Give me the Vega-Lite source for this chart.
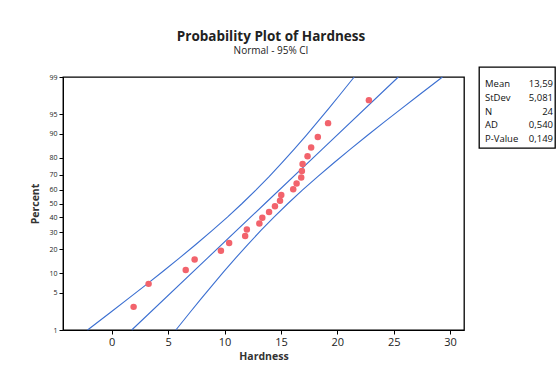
{
  "$schema": "https://vega.github.io/schema/vega-lite/v6.json",
  "background": "white",
  "padding": {"left": 30, "top": 29, "right": 5, "bottom": 5},
  "title": {
    "text": "Probability Plot of Hardness",
    "subtitle": "Normal - 95% CI",
    "anchor": "middle",
    "font": "Open Sans",
    "fontSize": 13.5,
    "fontWeight": "bold",
    "color": "#222222",
    "subtitleFont": "Open Sans",
    "subtitleFontSize": 10,
    "subtitleColor": "#222222",
    "subtitlePadding": 3,
    "offset": 10,
    "dx": -22
  },
  "datasets": {
    "points": [
      {"hardness": 1.94, "percent": 2.87, "z": -1.901},
      {"hardness": 3.27, "percent": 6.97, "z": -1.478},
      {"hardness": 6.56, "percent": 11.07, "z": -1.223},
      {"hardness": 7.35, "percent": 15.16, "z": -1.030},
      {"hardness": 9.68, "percent": 19.26, "z": -0.868},
      {"hardness": 10.41, "percent": 23.36, "z": -0.727},
      {"hardness": 11.83, "percent": 27.46, "z": -0.599},
      {"hardness": 11.98, "percent": 31.56, "z": -0.480},
      {"hardness": 13.09, "percent": 35.66, "z": -0.367},
      {"hardness": 13.35, "percent": 39.75, "z": -0.260},
      {"hardness": 13.95, "percent": 43.85, "z": -0.155},
      {"hardness": 14.47, "percent": 47.95, "z": -0.051},
      {"hardness": 14.92, "percent": 52.05, "z": 0.051},
      {"hardness": 15.03, "percent": 56.15, "z": 0.155},
      {"hardness": 16.09, "percent": 60.25, "z": 0.260},
      {"hardness": 16.39, "percent": 64.34, "z": 0.367},
      {"hardness": 16.80, "percent": 68.44, "z": 0.480},
      {"hardness": 16.86, "percent": 72.54, "z": 0.599},
      {"hardness": 16.92, "percent": 76.64, "z": 0.727},
      {"hardness": 17.36, "percent": 80.74, "z": 0.868},
      {"hardness": 17.68, "percent": 84.84, "z": 1.030},
      {"hardness": 18.27, "percent": 88.93, "z": 1.223},
      {"hardness": 19.18, "percent": 93.03, "z": 1.478},
      {"hardness": 22.80, "percent": 97.13, "z": 1.901}
    ],
    "lines": [
      {"series": "lower", "z": -2.3263, "hardness": -2.141},
      {"series": "lower", "z": -2.0, "hardness": -0.093},
      {"series": "lower", "z": -1.75, "hardness": 1.464},
      {"series": "lower", "z": -1.5, "hardness": 3.005},
      {"series": "lower", "z": -1.25, "hardness": 4.526},
      {"series": "lower", "z": -1.0, "hardness": 6.019},
      {"series": "lower", "z": -0.75, "hardness": 7.478},
      {"series": "lower", "z": -0.5, "hardness": 8.893},
      {"series": "lower", "z": -0.25, "hardness": 10.256},
      {"series": "lower", "z": 0.0, "hardness": 11.557},
      {"series": "lower", "z": 0.25, "hardness": 12.796},
      {"series": "lower", "z": 0.5, "hardness": 13.974},
      {"series": "lower", "z": 0.75, "hardness": 15.100},
      {"series": "lower", "z": 1.0, "hardness": 16.181},
      {"series": "lower", "z": 1.25, "hardness": 17.228},
      {"series": "lower", "z": 1.5, "hardness": 18.249},
      {"series": "lower", "z": 1.75, "hardness": 19.248},
      {"series": "lower", "z": 2.0, "hardness": 20.231},
      {"series": "lower", "z": 2.3263, "hardness": 21.495},
      {"series": "fit", "z": -2.3263, "hardness": 1.772},
      {"series": "fit", "z": -1.0, "hardness": 8.509},
      {"series": "fit", "z": 0.0, "hardness": 13.59},
      {"series": "fit", "z": 1.0, "hardness": 18.671},
      {"series": "fit", "z": 2.3263, "hardness": 25.408},
      {"series": "upper", "z": -2.3263, "hardness": 5.685},
      {"series": "upper", "z": -2.0, "hardness": 6.949},
      {"series": "upper", "z": -1.75, "hardness": 7.932},
      {"series": "upper", "z": -1.5, "hardness": 8.932},
      {"series": "upper", "z": -1.25, "hardness": 9.952},
      {"series": "upper", "z": -1.0, "hardness": 10.999},
      {"series": "upper", "z": -0.75, "hardness": 12.080},
      {"series": "upper", "z": -0.5, "hardness": 13.206},
      {"series": "upper", "z": -0.25, "hardness": 14.384},
      {"series": "upper", "z": 0.0, "hardness": 15.623},
      {"series": "upper", "z": 0.25, "hardness": 16.924},
      {"series": "upper", "z": 0.5, "hardness": 18.287},
      {"series": "upper", "z": 0.75, "hardness": 19.702},
      {"series": "upper", "z": 1.0, "hardness": 21.161},
      {"series": "upper", "z": 1.25, "hardness": 22.654},
      {"series": "upper", "z": 1.5, "hardness": 24.175},
      {"series": "upper", "z": 1.75, "hardness": 25.716},
      {"series": "upper", "z": 2.0, "hardness": 27.273},
      {"series": "upper", "z": 2.3263, "hardness": 29.321}
    ],
    "stats": [
      {"stat": "Mean", "value": "13,59"},
      {"stat": "StDev", "value": "5,081"},
      {"stat": "N", "value": "24"},
      {"stat": "AD", "value": "0,540"},
      {"stat": "P-Value", "value": "0,149"}
    ]
  },
  "spacing": 13,
  "hconcat": [
    {
      "spacing": 0,
      "vconcat": [
        {
          "width": 401,
          "height": 4,
          "view": {"stroke": null},
          "data": {"values": [{"gap": 0}]},
          "mark": {"type": "point", "opacity": 0},
          "encoding": {}
        },
        {
          "width": 401,
          "height": 253,
          "layer": [
            {
              "data": {"name": "lines"},
              "mark": {"type": "line", "color": "#3b6fd1", "strokeWidth": 1.1},
              "encoding": {
                "x": {
                  "field": "hardness",
                  "type": "quantitative",
                  "scale": {"domain": [-4.32, 31.23], "nice": false, "zero": false},
                  "axis": {
                    "title": "Hardness",
                    "values": [0, 5, 10, 15, 20, 25, 30],
                    "grid": false,
                    "tickSize": 4,
                    "tickColor": "#000000",
                    "domainColor": "#000000",
                    "labelFont": "Open Sans",
                    "labelFontSize": 11,
                    "labelColor": "#222222",
                    "labelPadding": 2,
                    "titleFont": "Open Sans",
                    "titleFontSize": 10.5,
                    "titleFontWeight": "bold",
                    "titleColor": "#333333",
                    "titlePadding": 4
                  }
                },
                "y": {
                  "field": "z",
                  "type": "quantitative",
                  "scale": {"domain": [-2.3263, 2.3263], "nice": false, "zero": false},
                  "axis": {
                    "title": "Percent",
                    "values": [-2.3263, -1.6449, -1.2816, -0.8416, -0.5244, -0.2533, 0, 0.2533, 0.5244, 0.8416, 1.2816, 1.6449, 2.3263],
                    "tickCount": 30,
                    "labelExpr": "format(cumulativeNormal(datum.value) * 100, '.0f')",
                    "labelOverlap": false,
                    "grid": false,
                    "tickSize": 4,
                    "tickColor": "#000000",
                    "domainColor": "#000000",
                    "labelFont": "Open Sans",
                    "labelFontSize": 7,
                    "labelColor": "#222222",
                    "labelPadding": 2,
                    "titleFont": "Open Sans",
                    "titleFontSize": 10.5,
                    "titleFontWeight": "bold",
                    "titleColor": "#333333",
                    "titlePadding": 8
                  }
                },
                "detail": {"field": "series", "type": "nominal"},
                "order": {"field": "z", "type": "quantitative"}
              }
            },
            {
              "data": {"name": "points"},
              "mark": {"type": "circle", "color": "#f2636c", "size": 42, "opacity": 1},
              "encoding": {
                "x": {"field": "hardness", "type": "quantitative"},
                "y": {"field": "z", "type": "quantitative"}
              }
            }
          ]
        }
      ]
    },
    {
      "width": 76,
      "height": 81,
      "data": {"name": "stats"},
      "transform": [{"fold": ["stat", "value"], "as": ["col", "text"]}],
      "encoding": {
        "x": {"field": "col", "type": "nominal", "scale": {"type": "point", "domain": ["stat", "value"], "padding": 0}, "axis": null},
        "y": {"field": "stat", "type": "nominal", "sort": ["Mean", "StDev", "N", "AD", "P-Value"], "scale": {"type": "point", "range": [17, 72], "padding": 0}, "axis": null},
        "text": {"field": "text", "type": "nominal"}
      },
      "layer": [
        {
          "transform": [{"filter": "datum.col == 'stat'"}],
          "mark": {"type": "text", "align": "left", "dx": 6, "font": "Open Sans", "fontSize": 9.5, "color": "#111111"}
        },
        {
          "transform": [{"filter": "datum.col == 'value'"}],
          "mark": {"type": "text", "align": "right", "dx": -2, "font": "Open Sans", "fontSize": 9.5, "color": "#111111"}
        }
      ]
    }
  ],
  "config": {
    "view": {"stroke": "#000000", "strokeWidth": 1.3}
  }
}
